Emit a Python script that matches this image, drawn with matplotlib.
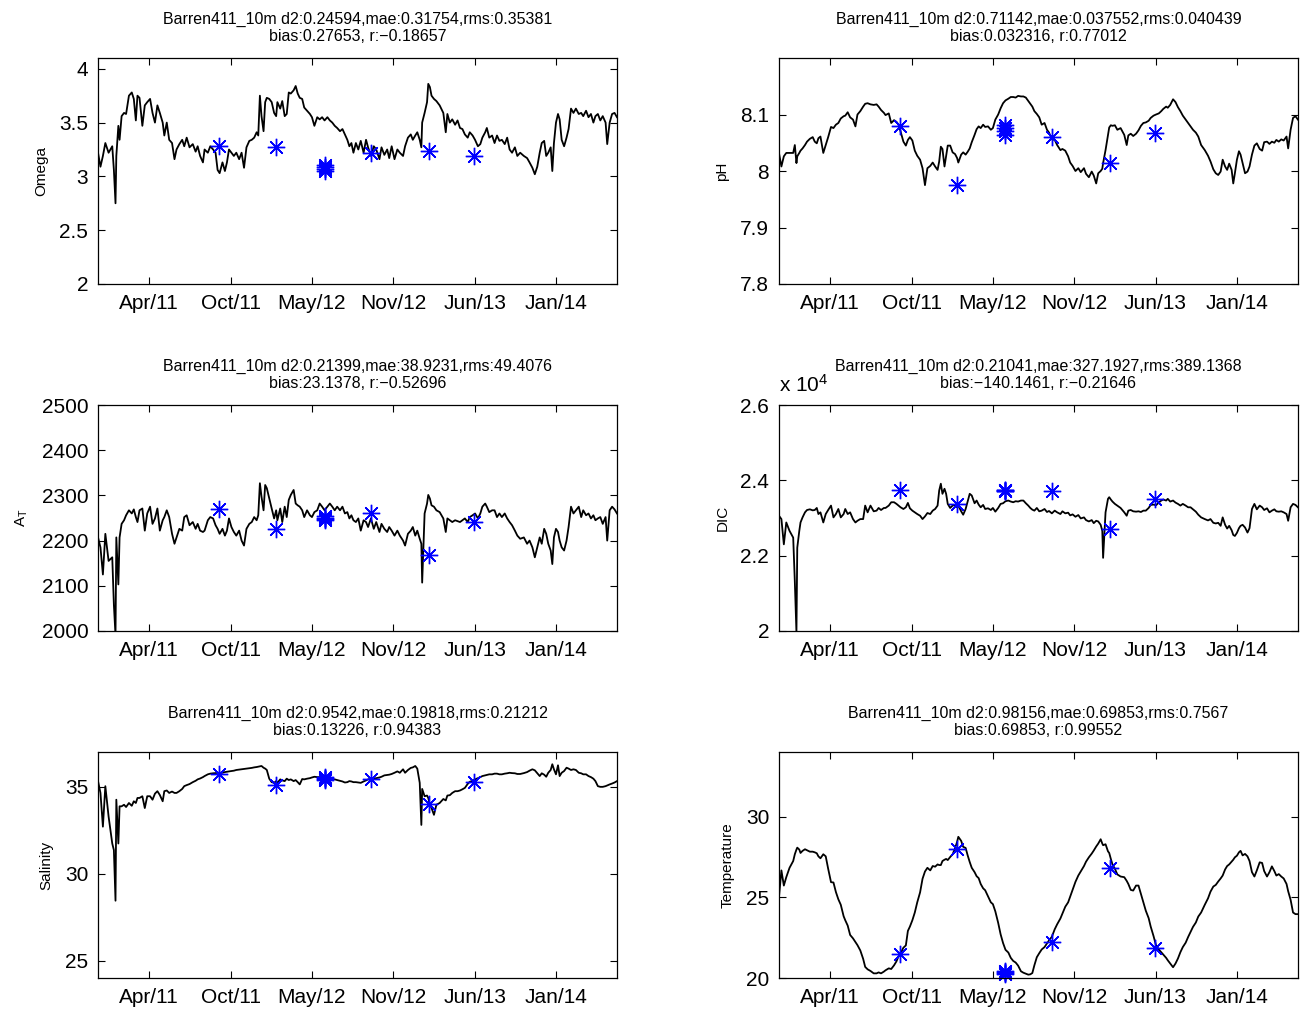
import numpy as np
import matplotlib
matplotlib.use("Agg")
import matplotlib.pyplot as plt
import matplotlib.dates as mdates
from matplotlib.ticker import FuncFormatter

plt.rcParams['font.family'] = ['Liberation Sans', 'DejaVu Sans']
plt.rcParams['mathtext.fontset'] = 'custom'
plt.rcParams['mathtext.rm'] = 'Liberation Sans'
plt.rcParams['mathtext.it'] = 'Liberation Sans:italic'

# mooring record, days since 2010-12-05
start = np.datetime64('2010-12-05')
days = [0, 6, 12, 18, 26, 35, 39, 43, 45, 50,
        53, 58, 64, 69, 76, 83, 88, 93, 97, 102,
        109, 115, 121, 128, 134, 140, 146, 152, 159, 163,
        169, 175, 182, 188, 193, 200, 207, 212, 218, 225,
        233, 240, 245, 251, 258, 262, 270, 276, 283, 289,
        294, 299, 306, 312, 317, 322, 328, 334, 340, 347,
        353, 359, 365, 372, 378, 384, 390, 394, 398, 402,
        407, 411, 415, 421, 427, 433, 438, 441, 448, 453,
        459, 464, 469, 474, 481, 486, 491, 496, 502, 507,
        514, 521, 526, 532, 539, 545, 551, 557, 564, 570,
        576, 582, 588, 595, 601, 607, 613, 618, 623, 628,
        634, 640, 646, 653, 659, 664, 671, 678, 684, 692,
        697, 704, 711, 716, 722, 729, 736, 742, 750, 755,
        762, 769, 774, 780, 785, 791, 795, 797, 803, 809,
        812, 816, 820, 826, 832, 840, 849, 855, 859, 865,
        871, 878, 884, 890, 896, 902, 909, 914, 921, 927,
        934, 940, 945, 952, 956, 962, 969, 975, 981, 987,
        993, 1000, 1006, 1012, 1018, 1025, 1031, 1038, 1047, 1055,
        1061, 1068, 1074, 1080, 1086, 1091, 1097, 1102, 1107, 1113,
        1117, 1121, 1126, 1131, 1135, 1140, 1146, 1152, 1157, 1163,
        1169, 1175, 1182, 1188, 1193, 1200, 1206, 1212, 1218, 1223,
        1229, 1235, 1241, 1248, 1252, 1258, 1264, 1270, 1276]

omega = [3.22, 3.09, 3.19, 3.31, 3.22, 3.28, 3.06, 2.75, 3.19, 3.47,
         3.34, 3.56, 3.59, 3.58, 3.75, 3.78, 3.72, 3.52, 3.75, 3.73,
         3.47, 3.66, 3.69, 3.72, 3.59, 3.50, 3.66, 3.59, 3.50, 3.38,
         3.50, 3.34, 3.31, 3.16, 3.25, 3.30, 3.34, 3.28, 3.36, 3.27,
         3.30, 3.23, 3.28, 3.19, 3.13, 3.25, 3.22, 3.28, 3.25, 3.22,
         3.06, 3.03, 3.13, 3.05, 3.13, 3.25, 3.22, 3.19, 3.22, 3.16,
         3.22, 3.08, 3.27, 3.33, 3.34, 3.36, 3.41, 3.38, 3.75, 3.56,
         3.42, 3.69, 3.73, 3.72, 3.69, 3.59, 3.56, 3.69, 3.63, 3.70,
         3.56, 3.58, 3.78, 3.77, 3.80, 3.84, 3.77, 3.73, 3.72, 3.64,
         3.61, 3.58, 3.55, 3.47, 3.55, 3.53, 3.55, 3.52, 3.55, 3.52,
         3.50, 3.47, 3.45, 3.42, 3.44, 3.39, 3.34, 3.28, 3.31, 3.22,
         3.31, 3.25, 3.33, 3.22, 3.34, 3.27, 3.19, 3.28, 3.25, 3.16,
         3.27, 3.20, 3.25, 3.17, 3.28, 3.16, 3.25, 3.22, 3.19, 3.28,
         3.36, 3.39, 3.34, 3.38, 3.41, 3.34, 3.27, 3.50, 3.59, 3.69,
         3.86, 3.83, 3.75, 3.72, 3.70, 3.66, 3.59, 3.41, 3.58, 3.50,
         3.53, 3.48, 3.52, 3.45, 3.44, 3.39, 3.36, 3.41, 3.38, 3.34,
         3.28, 3.30, 3.36, 3.41, 3.45, 3.36, 3.38, 3.31, 3.38, 3.33,
         3.34, 3.30, 3.36, 3.25, 3.22, 3.27, 3.19, 3.22, 3.19, 3.17,
         3.13, 3.08, 3.02, 3.09, 3.22, 3.31, 3.33, 3.19, 3.22, 3.27,
         3.05, 3.31, 3.50, 3.58, 3.53, 3.34, 3.28, 3.36, 3.44, 3.63,
         3.59, 3.63, 3.58, 3.59, 3.56, 3.61, 3.55, 3.58, 3.50, 3.56,
         3.58, 3.52, 3.56, 3.50, 3.30, 3.50, 3.58, 3.59, 3.55]

ph = [8.032, 8.008, 8.026, 8.032, 8.032, 8.032, 8.046, 8.014, 8.026, 8.032,
      8.036, 8.040, 8.046, 8.052, 8.057, 8.060, 8.052, 8.049, 8.058, 8.061,
      8.032, 8.046, 8.060, 8.078, 8.076, 8.082, 8.085, 8.093, 8.097, 8.098,
      8.104, 8.095, 8.091, 8.079, 8.100, 8.106, 8.114, 8.119, 8.120, 8.118,
      8.117, 8.118, 8.114, 8.108, 8.103, 8.099, 8.102, 8.085, 8.090, 8.087,
      8.082, 8.070, 8.052, 8.045, 8.055, 8.060, 8.054, 8.036, 8.027, 8.020,
      8.005, 7.975, 8.005, 8.009, 8.015, 8.008, 8.002, 8.017, 8.043, 8.039,
      8.008, 8.026, 8.045, 8.045, 8.033, 8.030, 8.023, 8.015, 8.029, 8.033,
      8.029, 8.034, 8.040, 8.051, 8.064, 8.074, 8.079, 8.076, 8.082, 8.078,
      8.079, 8.073, 8.076, 8.091, 8.100, 8.111, 8.120, 8.125, 8.128, 8.131,
      8.131, 8.130, 8.133, 8.132, 8.132, 8.130, 8.124, 8.119, 8.114, 8.106,
      8.101, 8.095, 8.082, 8.085, 8.073, 8.068, 8.056, 8.055, 8.046, 8.037,
      8.039, 8.036, 8.026, 8.015, 8.009, 8.000, 8.005, 7.998, 8.005, 7.995,
      7.989, 7.999, 7.992, 7.978, 7.996, 8.000, 8.004, 8.014, 8.037, 8.064,
      8.077, 8.081, 8.080, 8.081, 8.073, 8.076, 8.064, 8.046, 8.063, 8.066,
      8.062, 8.066, 8.072, 8.080, 8.085, 8.086, 8.089, 8.094, 8.098, 8.100,
      8.102, 8.106, 8.110, 8.114, 8.112, 8.117, 8.127, 8.122, 8.113, 8.106,
      8.098, 8.091, 8.085, 8.079, 8.073, 8.068, 8.061, 8.046, 8.037, 8.027,
      8.017, 8.003, 7.996, 7.993, 7.999, 8.020, 8.008, 8.002, 8.013, 8.002,
      7.978, 7.996, 8.020, 8.035, 8.029, 8.014, 7.996, 7.999, 8.008, 8.029,
      8.045, 8.049, 8.039, 8.036, 8.051, 8.052, 8.048, 8.052, 8.050, 8.055,
      8.052, 8.056, 8.054, 8.061, 8.040, 8.073, 8.094, 8.097, 8.091]

alk = [2207, 2185, 2125, 2215, 2155, 2163, 2058, 1990, 2207, 2103,
       2207, 2237, 2245, 2256, 2267, 2260, 2269, 2252, 2241, 2267,
       2271, 2222, 2260, 2275, 2237, 2249, 2271, 2222, 2245, 2252,
       2267, 2252, 2215, 2193, 2207, 2226, 2222, 2252, 2256, 2234,
       2241, 2226, 2237, 2222, 2219, 2222, 2245, 2252, 2249, 2234,
       2226, 2215, 2226, 2211, 2222, 2249, 2230, 2219, 2211, 2222,
       2200, 2189, 2226, 2237, 2241, 2252, 2245, 2256, 2327, 2297,
       2267, 2323, 2316, 2293, 2271, 2249, 2267, 2245, 2271, 2241,
       2275, 2252, 2290, 2301, 2312, 2282, 2278, 2275, 2267, 2252,
       2267, 2256, 2252, 2263, 2267, 2282, 2275, 2267, 2275, 2282,
       2275, 2267, 2275, 2267, 2275, 2260, 2263, 2249, 2256, 2245,
       2241, 2249, 2222, 2245, 2241, 2230, 2249, 2226, 2241, 2219,
       2237, 2226, 2219, 2230, 2222, 2211, 2222, 2211, 2200, 2189,
       2215, 2222, 2230, 2211, 2222, 2204, 2193, 2107, 2260, 2282,
       2301, 2293, 2278, 2275, 2267, 2263, 2249, 2219, 2249, 2245,
       2241, 2245, 2243, 2241, 2245, 2249, 2241, 2252, 2256, 2260,
       2249, 2260, 2275, 2282, 2275, 2263, 2267, 2267, 2252, 2260,
       2252, 2260, 2249, 2241, 2234, 2222, 2211, 2204, 2207, 2193,
       2200, 2185, 2163, 2185, 2207, 2193, 2226, 2215, 2193, 2178,
       2148, 2207, 2226, 2219, 2200, 2185, 2178, 2200, 2230, 2275,
       2260, 2267, 2275, 2252, 2267, 2256, 2260, 2249, 2256, 2245,
       2249, 2252, 2237, 2252, 2200, 2267, 2275, 2269, 2260]

dic = [23060, 22971, 22300, 22881, 22658, 22479, 21315, 19950, 22210, 22658,
       22881, 23016, 23150, 23212, 23230, 23203, 23212, 23266, 23105, 23150,
       22881, 23105, 23212, 23329, 23016, 23105, 23239, 23016, 23105, 23239,
       23105, 23150, 22971, 22881, 22926, 22971, 22971, 23329, 23150, 23329,
       23177, 23195, 23266, 23212, 23266, 23266, 23329, 23418, 23418, 23374,
       23329, 23284, 23239, 23284, 23400, 23257, 23195, 23150, 23105, 23060,
       22971, 23042, 23132, 23105, 23195, 23239, 23329, 23731, 23910, 23642,
       23776, 23642, 23374, 23266, 23329, 23347, 23284, 23329, 23177, 23087,
       23239, 23445, 23642, 23597, 23391, 23463, 23356, 23284, 23347, 23239,
       23257, 23212, 23266, 23168, 23266, 23374, 23391, 23445, 23463, 23436,
       23418, 23445, 23436, 23463, 23463, 23391, 23329, 23266, 23221, 23195,
       23266, 23177, 23195, 23239, 23159, 23186, 23123, 23195, 23150, 23105,
       23177, 23123, 23141, 23069, 23096, 23033, 23078, 22988, 23016, 22944,
       22908, 22944, 22863, 22926, 22908, 22819, 22658, 21942, 23150, 23508,
       23552, 23490, 23436, 23374, 23329, 23266, 23150, 23060, 23195, 23212,
       23177, 23168, 23177, 23159, 23195, 23195, 23266, 23347, 23356, 23338,
       23409, 23463, 23490, 23463, 23508, 23436, 23463, 23409, 23374, 23329,
       23374, 23329, 23284, 23284, 23230, 23168, 23087, 23016, 22971, 22935,
       22971, 22872, 22855, 22872, 22792, 23016, 22819, 22720, 22792, 22676,
       22550, 22523, 22604, 22729, 22792, 22819, 22747, 22613, 22729, 23239,
       23374, 23230, 23329, 23284, 23212, 23257, 23150, 23195, 23230, 23177,
       23168, 23177, 23150, 23105, 22926, 23284, 23374, 23347, 23284]

salt = [35.33, 34.65, 32.71, 35.04, 33.29, 31.74, 31.36, 28.45, 34.26, 31.74,
        33.88, 33.88, 33.97, 33.84, 34.07, 33.91, 34.17, 34.07, 34.36, 34.36,
        34.46, 33.78, 34.46, 34.46, 34.26, 34.61, 34.75, 34.53, 34.17, 34.75,
        34.79, 34.65, 34.73, 34.65, 34.65, 34.75, 34.88, 35.04, 35.10, 35.16,
        35.27, 35.35, 35.43, 35.48, 35.56, 35.62, 35.72, 35.76, 35.78, 35.79,
        35.81, 35.81, 35.81, 35.85, 35.87, 35.89, 35.91, 35.93, 35.97, 35.99,
        36.01, 36.03, 36.05, 36.07, 36.09, 36.12, 36.14, 36.16, 36.18, 36.20,
        36.10, 36.05, 35.97, 35.47, 35.27, 35.23, 35.33, 35.23, 35.43, 35.37,
        35.33, 35.47, 35.39, 35.43, 35.33, 35.39, 35.27, 35.14, 35.45, 35.43,
        35.47, 35.50, 35.54, 35.58, 35.56, 35.56, 35.50, 35.43, 35.52, 35.47,
        35.43, 35.43, 35.39, 35.35, 35.31, 35.25, 35.27, 35.33, 35.31, 35.27,
        35.27, 35.25, 35.23, 35.31, 35.37, 35.43, 35.47, 35.48, 35.50, 35.54,
        35.58, 35.66, 35.68, 35.70, 35.74, 35.81, 35.89, 35.81, 36.01, 35.81,
        35.97, 36.09, 36.12, 36.20, 36.05, 35.23, 32.81, 34.88, 34.46, 34.50,
        34.36, 33.97, 33.78, 33.39, 33.97, 34.07, 34.30, 34.22, 34.50, 34.52,
        34.65, 34.75, 34.75, 34.79, 34.86, 34.94, 35.17, 35.29, 35.35, 35.43,
        35.50, 35.56, 35.62, 35.66, 35.68, 35.72, 35.72, 35.76, 35.76, 35.72,
        35.72, 35.76, 35.78, 35.81, 35.79, 35.78, 35.74, 35.74, 35.79, 35.85,
        35.93, 36.01, 35.95, 35.78, 35.62, 35.78, 35.70, 35.58, 35.81, 35.97,
        36.30, 36.01, 35.72, 36.24, 35.62, 35.81, 35.91, 36.10, 36.05, 35.97,
        36.01, 35.97, 35.81, 35.78, 35.72, 35.72, 35.62, 35.56, 35.47, 35.33,
        35.04, 35.00, 35.00, 35.04, 35.08, 35.14, 35.19, 35.25, 35.33]

temp = [25.00, 26.67, 25.73, 26.25, 26.83, 27.25, 27.67, 27.96, 28.08, 27.96,
        27.75, 27.88, 27.98, 27.92, 27.83, 27.83, 27.79, 27.73, 27.54, 27.42,
        27.67, 27.54, 26.77, 25.94, 25.92, 25.33, 24.88, 24.54, 23.83, 23.58,
        23.25, 22.67, 22.46, 22.23, 22.04, 21.71, 21.19, 20.69, 20.54, 20.44,
        20.29, 20.29, 20.35, 20.29, 20.40, 20.48, 20.60, 20.56, 20.79, 21.04,
        21.35, 21.54, 21.88, 22.02, 22.92, 23.19, 23.58, 24.06, 24.69, 25.31,
        26.15, 26.60, 26.83, 26.67, 26.94, 26.90, 27.04, 27.00, 27.00, 27.25,
        27.33, 27.38, 27.31, 27.50, 27.67, 28.04, 28.44, 28.75, 28.50, 28.13,
        28.06, 27.60, 27.19, 26.83, 26.56, 26.31, 26.19, 25.83, 25.56, 25.44,
        25.06, 24.69, 24.58, 24.13, 23.42, 22.71, 22.17, 21.75, 21.58, 21.25,
        21.06, 20.96, 20.77, 20.42, 20.33, 20.27, 20.21, 20.23, 20.31, 20.79,
        21.29, 21.54, 21.77, 21.92, 22.15, 22.33, 22.56, 23.02, 23.33, 23.69,
        24.00, 24.42, 24.69, 25.04, 25.46, 25.96, 26.35, 26.60, 26.94, 27.21,
        27.48, 27.71, 27.90, 28.15, 28.33, 28.60, 28.33, 28.23, 28.29, 27.85,
        27.75, 27.38, 27.04, 26.77, 26.42, 26.29, 26.25, 26.02, 25.83, 25.46,
        25.42, 25.73, 25.73, 25.21, 24.69, 24.17, 23.71, 23.19, 22.60, 22.04,
        21.77, 21.60, 21.46, 21.25, 21.10, 20.90, 20.67, 20.90, 21.21, 21.60,
        21.92, 22.19, 22.54, 22.85, 23.17, 23.44, 23.81, 24.06, 24.54, 24.94,
        25.35, 25.67, 25.77, 25.98, 26.17, 26.35, 26.73, 26.94, 27.04, 27.21,
        27.33, 27.48, 27.58, 27.79, 27.88, 27.60, 27.69, 27.54, 27.25, 26.56,
        26.29, 26.67, 27.17, 27.13, 26.63, 26.29, 26.56, 26.92, 26.63, 26.35,
        26.44, 26.29, 26.17, 25.83, 25.38, 24.85, 24.06, 23.96, 23.96]

# bottle samples
obs_days = [297, 437, 557, 557, 557, 557, 671, 814, 925]
omega_obs = [3.28, 3.27, 3.11, 3.09, 3.07, 3.05, 3.22, 3.24, 3.19]
ph_obs = [8.080, 7.976, 8.082, 8.076, 8.070, 8.064, 8.061, 8.014, 8.067]
alk_obs = [2269, 2225, 2254, 2251, 2248, 2246, 2260, 2169, 2241]
dic_obs = [23731, 23374, 23745, 23735, 23725, 23715, 23714, 22702, 23508]
salt_obs = [35.72, 35.08, 35.55, 35.50, 35.45, 35.42, 35.48, 34.03, 35.29]
temp_obs = [21.52, 28.02, 20.45, 20.38, 20.30, 20.22, 22.23, 26.83, 21.88]

stats = [
    'd2:0.24594,mae:0.31754,rms:0.35381\nbias:0.27653, r:\u22120.18657',
    'd2:0.71142,mae:0.037552,rms:0.040439\nbias:0.032316, r:0.77012',
    'd2:0.21399,mae:38.9231,rms:49.4076\nbias:23.1378, r:\u22120.52696',
    'd2:0.21041,mae:327.1927,rms:389.1368\nbias:\u2212140.1461, r:\u22120.21646',
    'd2:0.9542,mae:0.19818,rms:0.21212\nbias:0.13226, r:0.94383',
    'd2:0.98156,mae:0.69853,rms:0.7567\nbias:0.69853, r:0.99552',
]
site = 'Barren411_10m'


def to_dates(d):
    return start + np.array(d).astype('timedelta64[D]')


fig = plt.figure(figsize=(13, 10.11), dpi=100)

cols = [0.0754, 0.5992]
rows = [0.7191, 0.3759, 0.0326]
w, h = 0.3992, 0.2235

panels = [
    (omega, omega_obs, 'Omega', (2, 4.1), [2, 2.5, 3, 3.5, 4], 1),
    (ph, ph_obs, 'pH', (7.8, 8.2), [7.8, 7.9, 8.0, 8.1], 1),
    (alk, alk_obs, 'A$_{\\mathrm{T}}$', (2000, 2500), [2000, 2100, 2200, 2300, 2400, 2500], 1),
    (dic, dic_obs, 'DIC', (20000, 26000), [20000, 22000, 24000, 26000], 1e4),
    (salt, salt_obs, 'Salinity', (24, 37), [25, 30, 35], 1),
    (temp, temp_obs, 'Temperature', (20, 34), [20, 25, 30], 1),
]

x = to_dates(days)
xo = to_dates(obs_days)
xticks = to_dates(126 + 200 * np.arange(6))

for i, (series, obs, label, ylim, yticks, scale) in enumerate(panels):
    ax = fig.add_axes([cols[i % 2], rows[i // 2], w, h])
    ax.plot(x, series, color='k', lw=1.3)
    ax.plot(xo, obs, linestyle='none', marker=(8, 2, 0), color='b',
            markersize=12.5, markeredgewidth=1.0, clip_on=False)

    ax.set_xlim(start, start + np.timedelta64(1276, 'D'))
    ax.set_ylim(*ylim)
    ax.set_xticks(xticks)
    ax.xaxis.set_major_formatter(mdates.DateFormatter('%b/%y'))
    ax.set_yticks(yticks)
    ax.yaxis.set_major_formatter(FuncFormatter(lambda v, p, s=scale: '%g' % round(v / s, 6)))

    ax.tick_params(direction='in', top=True, right=True, length=5, width=0.8,
                   labelsize=15, pad=7)
    for sp in ax.spines.values():
        sp.set_linewidth(0.9)

    ax.set_ylabel(label, fontsize=11, labelpad=8)
    ax.set_title(site + ' ' + stats[i], fontsize=11.5, pad=12, linespacing=1.2)

    if scale != 1:
        ax.text(0.0, 1.04, 'x 10$^{4}$', transform=ax.transAxes,
                fontsize=15, ha='left', va='bottom')

fig.savefig('out.png', dpi=100)
